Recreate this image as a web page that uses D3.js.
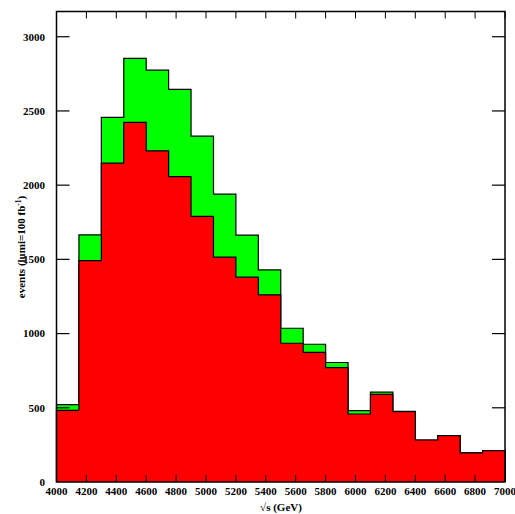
<!DOCTYPE html>
<html>
<head>
<meta charset="utf-8">
<script src="https://cdn.jsdelivr.net/npm/d3@7"></script>
<style>
body{margin:0;background:#fff;}
svg{display:block;}
text{font-family:"Liberation Serif","Times New Roman",serif;}
</style>
</head>
<body>
<svg id="c" width="515" height="514"></svg>
<script>
// bin lower edges (GeV), width 150
const binEdges = [4000,4150,4300,4450,4600,4750,4900,5050,5200,5350,5500,5650,5800,5950,6100,6250,6400,6550,6700,6850,7000];
// total (green) and red component
const totalEvents = [521,1665,2456,2854,2775,2645,2330,1940,1663,1429,1036,928,805,481,605,476,283,312,196,211];
const redEvents   = [483,1492,2148,2423,2231,2058,1789,1515,1380,1261,935,874,771,458,591,474,283,312,196,211];
const xTicks = [4000,4200,4400,4600,4800,5000,5200,5400,5600,5800,6000,6200,6400,6600,6800,7000];
const yTicks = [0,500,1000,1500,2000,2500,3000];

const svg = d3.select("#c");
const L=56.5, R=505, T=11.5, B=482;
const x = d3.scaleLinear().domain([4000,7000]).range([L,R]);
const y = d3.scaleLinear().domain([0,3170]).range([B,T]);

const area = d3.area().x(d=>x(d[0])).y0(y(0)).y1(d=>y(d[1])).curve(d3.curveStepAfter);

function hist(vals, color){
  const p = vals.map((v,i)=>[binEdges[i],v]);
  p.push([binEdges[binEdges.length-1], vals[vals.length-1]]);
  svg.append("path").attr("d",area(p)).attr("fill",color);
  const sp = [[x(binEdges[0]),y(0)]];
  vals.forEach((v,i)=>{ sp.push([x(binEdges[i]),y(v)]); sp.push([x(binEdges[i+1]),y(v)]); });
  sp.push([x(binEdges[binEdges.length-1]),y(0)]);
  svg.append("path").attr("d",d3.line()(sp)).attr("fill","none").attr("stroke","#000").attr("stroke-width",1.2).attr("stroke-linejoin","miter");
}
hist(totalEvents,"#00ff00");
hist(redEvents,"#ff0000");

// frame
svg.append("rect").attr("x",L).attr("y",T).attr("width",R-L).attr("height",B-T)
  .attr("fill","none").attr("stroke","#000").attr("stroke-width",1.5);

// x ticks bottom & top
const gx = svg.append("g");
xTicks.forEach(t=>{
  gx.append("line").attr("x1",x(t)).attr("x2",x(t)).attr("y1",B).attr("y2",B-7).attr("stroke","#000").attr("stroke-width",1);
  gx.append("line").attr("x1",x(t)).attr("x2",x(t)).attr("y1",T).attr("y2",T+7).attr("stroke","#000").attr("stroke-width",1);
  gx.append("text").attr("x",x(t)).attr("y",495).attr("text-anchor","middle")
    .attr("font-size",11).attr("font-weight","bold").text(t);
});
const gy = svg.append("g");
yTicks.forEach(t=>{
  if(t>0){
    gy.append("line").attr("x1",L).attr("x2",L+13).attr("y1",y(t)).attr("y2",y(t)).attr("stroke","#000").attr("stroke-width",1.2);
    gy.append("line").attr("x1",R).attr("x2",R-13).attr("y1",y(t)).attr("y2",y(t)).attr("stroke","#000").attr("stroke-width",1.2);
  }
  gy.append("text").attr("x",45).attr("y",y(t)).attr("dy","0.35em").attr("text-anchor","end")
    .attr("font-size",11).attr("font-weight","bold").text(t);
});

// axis labels
svg.append("text").attr("x",281).attr("y",511).attr("text-anchor","middle")
  .attr("font-size",11).attr("font-weight","bold").text("√s (GeV)");
const yl = svg.append("text").attr("transform","translate(25,247) rotate(-90)").attr("text-anchor","middle")
  .attr("font-size",11).attr("font-weight","bold");
yl.append("tspan").text("events (lumi=100 fb");
yl.append("tspan").attr("dy","-4").attr("font-size",7.5).text("-1");
yl.append("tspan").attr("dy","4").text(")");
</script>
</body>
</html>
